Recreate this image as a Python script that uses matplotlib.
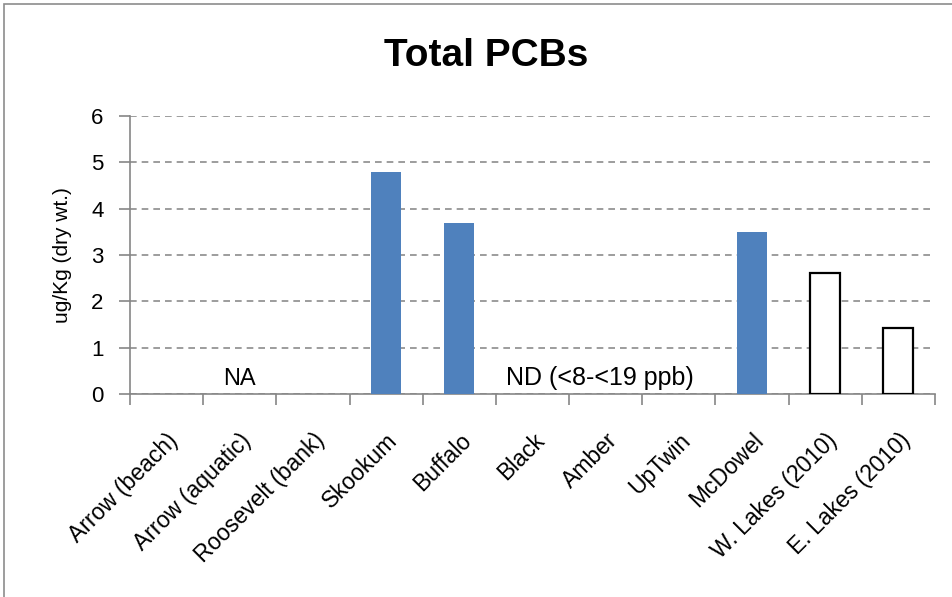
import matplotlib
matplotlib.use("Agg")
import matplotlib.pyplot as plt
from matplotlib.patches import Rectangle
import numpy as np

# data
sites = ["Arrow (beach)", "Arrow (aquatic)", "Roosevelt (bank)", "Skookum", "Buffalo",
         "Black", "Amber", "UpTwin", "McDowel", "W. Lakes (2010)", "E. Lakes (2010)"]
pcb_2011 = [np.nan, np.nan, np.nan, 4.8, 3.7, np.nan, np.nan, np.nan, 3.5, np.nan, np.nan]
pcb_2010 = [np.nan] * 9 + [2.62, 1.42]
y_ticks = [0, 1, 2, 3, 4, 5, 6]

plt.rcParams['font.family'] = ['Liberation Sans', 'DejaVu Sans']

fig = plt.figure(figsize=(9.53, 5.97), dpi=100)
ax = fig.add_axes([130 / 953, 1 - 394 / 597, (935 - 130) / 953, (394 - 116) / 597])

# outer chart border (right and bottom edges are cropped in the reference)
fig.patches.append(Rectangle((4 / 953, -0.05), 1.2, (597 - 4) / 597 + 0.05,
                             transform=fig.transFigure, fill=False,
                             edgecolor="#8c8c8c", linewidth=1.2))

x = np.arange(len(sites))
w = 0.41
ax.bar(x, pcb_2011, width=w, color="#4F81BD", zorder=3)
ax.bar(x, pcb_2010, width=w, facecolor="white", edgecolor="black", linewidth=1.6, zorder=3)

ax.text(1, 0.2, "NA", ha="center", va="baseline", fontsize=17)
ax.text(5.92, 0.2, "ND (<8-<19 ppb)", ha="center", va="baseline", fontsize=18)

ax.set_xlim(-0.5, len(sites) - 0.5)
ax.set_ylim(0, 6)
ax.set_yticks(y_ticks)
ax.tick_params(axis="y", labelsize=16, length=8, width=1.2, color="#868686", pad=11)
ax.yaxis.grid(True, linestyle=(0, (4, 3)), color="#8c8c8c", linewidth=1.2, zorder=0)

# ticks sit between categories, labels under the category centres
ax.set_xticks(np.arange(-0.5, len(sites), 1.0))
ax.set_xticklabels([])
ax.set_xticks(x, minor=True)
ax.set_xticklabels(sites, minor=True, rotation=45, ha="right", rotation_mode="anchor", fontsize=16.5)
ax.tick_params(axis="x", which="major", length=8, width=1.2, color="#868686")
ax.tick_params(axis="x", which="minor", length=0, pad=25)

for s in ["top", "right"]:
    ax.spines[s].set_visible(False)
for s in ["left", "bottom"]:
    ax.spines[s].set_color("#868686")
    ax.spines[s].set_linewidth(1.2)

ax.set_ylabel("ug/Kg (dry wt.)", fontsize=15)
ax.yaxis.set_label_coords(-0.072, 0.5)
fig.text(486 / 953, 1 - 56 / 597, "Total PCBs", ha="center", va="center",
         fontsize=28, fontweight="bold")

fig.savefig("out.png", dpi=100)
